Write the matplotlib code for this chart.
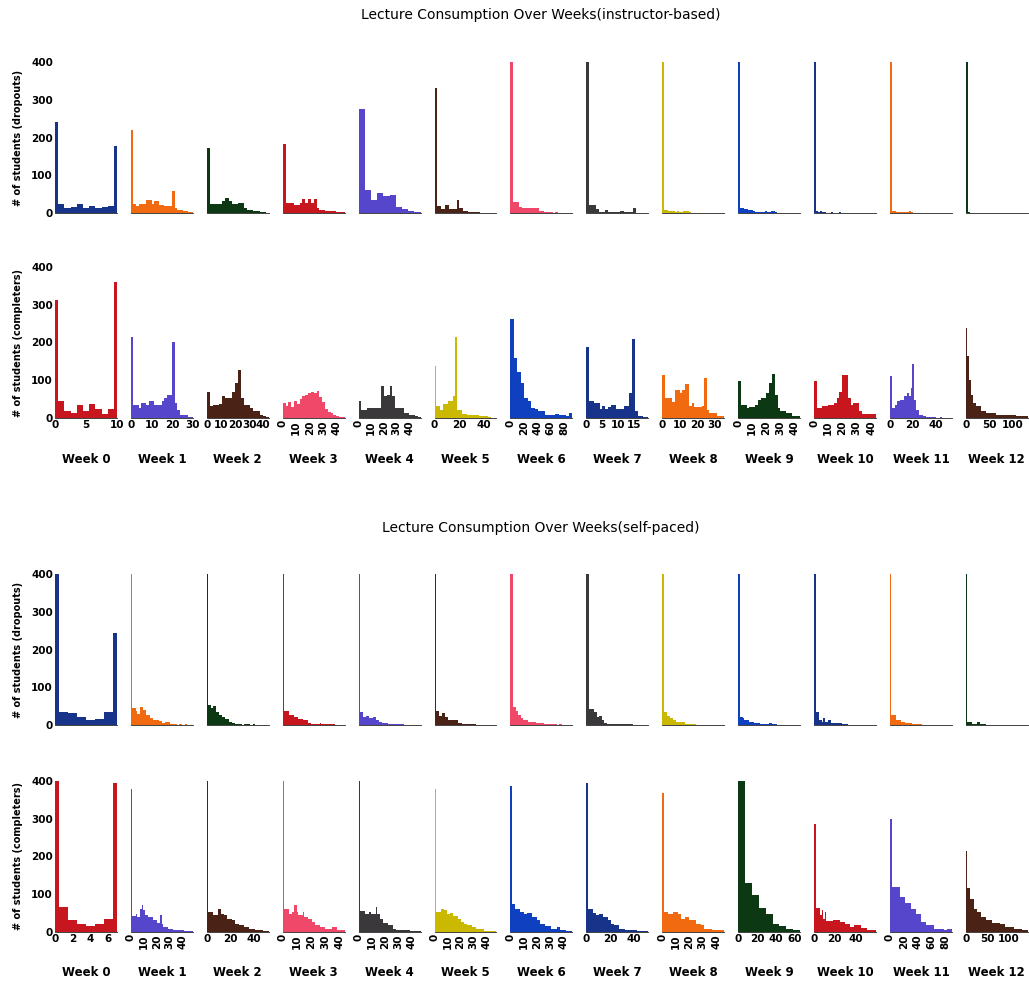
import numpy as np
import matplotlib.pyplot as plt

weeks = ["Week %d" % i for i in range(13)]

# one colour per histogram, cycling through ten colours across the panels
palette = ['#18348a', '#f26a10', '#0c3814', '#c8161e', '#5646cc',
           '#4a2216', '#ef4868', '#3a383a', '#cbb800', '#0e40c0']

# ---- instructor-based course: lectures watched per week ----
instr_xmax = [10, 30, 44, 46, 49, 50, 92, 19.5, 35.5, 44, 43.5, 54, 131]

instr_drop = [
    [240, 25, 25, 12, 12, 16, 16, 23, 23, 12, 12, 19, 19, 12, 12, 16, 16, 19, 19, 177],
    [221, 25, 18, 23, 23, 23, 34, 34, 25, 31, 31, 20, 20, 19, 19, 19, 58, 12, 7, 7, 5, 5, 2, 2],
    [171, 25, 23, 23, 23, 32, 41, 32, 25, 25, 27, 27, 12, 9, 9, 5, 5, 3, 3, 1],
    [182, 27, 27, 27, 20, 20, 27, 36, 27, 36, 27, 36, 13, 7, 7, 4, 4, 5, 5, 2, 2, 2],
    [275, 62, 34, 52, 44, 49, 16, 11, 4, 2],
    [330, 18, 18, 11, 11, 20, 20, 11, 11, 11, 11, 34, 13, 13, 4, 4, 3, 3, 2, 2,
     2, 2, 1, 1, 1, 1, 1, 1, 1, 1],
    [400, 28, 28, 15, 13, 13, 12, 13, 12, 12, 4, 4, 2, 2, 2, 1, 2, 1, 1, 1, 1, 1],
    [400, 21, 21, 11, 3, 3, 8, 2, 2, 2, 2, 5, 2, 2, 2, 13, 1, 1, 1, 1],
    [400, 9, 9, 6, 4, 4, 3, 5, 3, 3, 4, 5, 4, 2, 1, 1, 1, 1, 1, 1,
     1, 1, 1, 1, 1, 1, 1, 1, 1, 1],
    [400, 12, 14, 10, 10, 8, 7, 4, 3, 3, 2, 2, 3, 4, 2, 2, 5, 5, 2, 1,
     1, 1, 1, 1, 1, 1, 1, 1, 1, 1],
    [400, 5, 3, 4, 2, 2, 1, 1, 2, 1, 1, 1, 2, 1, 1, 1, 1, 1, 1, 1,
     1, 1, 1, 1, 1, 1, 1, 1, 1, 1],
    [400, 6, 4, 2, 2, 3, 3, 2, 2, 4, 2, 1, 1, 1, 1, 1, 1, 1, 1, 1,
     1, 1, 1, 1, 1, 1, 1, 1, 1, 1],
    [400, 2, 1, 1, 1, 1, 1, 1, 1, 1, 1, 1, 1, 1, 1, 1, 1, 1, 1, 1,
     1, 1, 1, 1, 1, 1, 1, 1, 1, 1],
]

instr_comp = [
    [312, 44, 44, 18, 18, 13, 13, 35, 35, 19, 19, 38, 38, 25, 25, 11, 11, 25, 25, 360],
    [215, 35, 35, 26, 41, 41, 35, 46, 46, 35, 35, 35, 44, 53, 62, 62, 202, 40, 22, 9,
     9, 9, 3, 3],
    [68, 31, 35, 35, 38, 57, 53, 53, 70, 92, 127, 53, 35, 35, 26, 18, 18, 9, 4, 2],
    [40, 32, 42, 30, 45, 38, 50, 58, 62, 65, 70, 65, 72, 55, 42, 25, 15, 12, 8, 5, 3, 2],
    [44, 22, 22, 26, 26, 26, 26, 26, 84, 57, 62, 84, 57, 26, 26, 26, 13, 13, 7, 7, 4, 2],
    [138, 31, 31, 22, 22, 38, 38, 38, 44, 44, 44, 57, 214, 22, 22, 22, 11, 11, 11, 7,
     7, 7, 7, 7, 7, 7, 4, 4, 4, 4, 4, 2, 2, 1, 1, 1],
    [261, 158, 123, 92, 53, 44, 26, 24, 18, 18, 9, 9, 9, 11, 7, 7, 4, 13],
    [188, 44, 44, 40, 40, 24, 31, 24, 29, 35, 35, 24, 24, 24, 31, 31, 66, 209, 18, 4,
     4, 2, 2],
    [114, 53, 53, 53, 42, 75, 75, 66, 75, 90, 90, 31, 40, 28, 28, 28, 31, 107, 22, 13,
     13, 13, 4, 4, 4],
    [99, 35, 35, 26, 29, 29, 35, 48, 53, 53, 66, 92, 116, 62, 26, 18, 18, 13, 13, 4, 4, 4],
    [99, 26, 26, 31, 31, 35, 35, 40, 53, 70, 114, 114, 53, 35, 40, 40, 18, 11, 11, 11,
     11, 11],
    [110, 26, 26, 35, 44, 44, 48, 48, 57, 57, 66, 57, 79, 142, 48, 22, 22, 9, 9, 4,
     4, 3, 3, 2, 2, 3, 2, 1, 1, 2, 1, 1, 1, 1, 1, 1],
    [239, 163, 101, 62, 40, 40, 31, 31, 31, 18, 18, 18, 13, 13, 13, 13, 13, 13, 9, 9,
     9, 9, 7, 7, 7, 7, 7, 7, 7, 7, 4, 4, 4, 4, 4, 4, 4],
]

instr_ticks = [[0, 5, 10], [0, 10, 20, 30], [0, 10, 20, 30, 40], [0, 10, 20, 30, 40],
               [0, 10, 20, 30, 40], [0, 20, 40], [0, 20, 40, 60, 80], [0, 5, 10, 15],
               [0, 10, 20, 30], [0, 10, 20, 30, 40], [0, 10, 20, 30, 40], [0, 20, 40],
               [0, 50, 100]]
instr_rotated = [3, 4, 6, 9, 10]

# ---- self-paced course ----
self_xmax = [7, 48, 53, 44, 47, 47.5, 47, 52, 46, 66, 60, 89, 145]

self_drop = [
    [400, 35, 35, 31, 31, 22, 22, 13, 13, 16, 16, 35, 35, 244],
    [400, 44, 44, 38, 29, 29, 48, 48, 40, 40, 26, 26, 18, 18, 13, 13, 13, 13, 11, 11,
     4, 4, 7, 7, 7, 2, 2, 3, 2, 2, 1, 2, 2, 1, 1, 2, 1, 1, 1, 1],
    [400, 53, 53, 44, 50, 50, 35, 35, 26, 26, 22, 22, 16, 16, 9, 9, 4, 4, 2, 2,
     3, 2, 2, 1, 2, 2, 3, 2, 1, 1, 2, 1, 1, 1, 1, 1, 1, 1, 1, 1],
    [400, 36, 36, 36, 27, 27, 27, 21, 21, 21, 16, 16, 16, 12, 12, 12, 4, 4, 3, 3,
     3, 3, 3, 3, 4, 3, 2, 2, 2, 2, 2, 2, 2, 2, 1, 1, 1, 1, 1, 1],
    [400, 34, 34, 21, 21, 25, 25, 18, 18, 21, 21, 12, 12, 9, 9, 5, 5, 5, 5, 3,
     3, 2, 2, 2, 2, 2, 2, 2, 2, 1, 1, 1, 1, 1, 1, 1, 1, 1, 1, 1],
    [400, 36, 36, 25, 25, 32, 32, 21, 21, 14, 14, 14, 12, 12, 12, 5, 5, 5, 3, 3,
     2, 2, 2, 3, 2, 2, 2, 1, 1, 1, 1, 1, 1, 1, 1, 1, 1, 1, 1, 1],
    [400, 47, 36, 27, 18, 14, 14, 9, 9, 9, 4, 4, 4, 2, 2, 2, 2, 2, 1, 2, 1, 1, 1, 1],
    [400, 43, 43, 34, 21, 25, 14, 5, 3, 3, 3, 3, 2, 2, 2, 2, 2, 2, 1, 1, 1, 1, 1, 1],
    [400, 34, 34, 24, 24, 18, 18, 13, 13, 9, 9, 9, 9, 7, 7, 3, 3, 2, 2, 2,
     2, 2, 1, 1, 1, 1, 1, 1, 1, 1, 1, 1, 1, 1, 1, 1, 1, 1, 1, 1],
    [400, 21, 21, 18, 12, 12, 12, 7, 7, 7, 5, 5, 5, 5, 3, 3, 3, 3, 3, 3,
     4, 4, 2, 2, 2, 1, 1, 1, 1, 1, 1, 1, 1, 1, 1, 1, 1, 1, 1, 1],
    [400, 34, 34, 13, 13, 9, 18, 9, 9, 13, 13, 4, 4, 4, 4, 4, 5, 5, 2, 2,
     2, 2, 1, 1, 1, 1, 1, 1, 1, 1, 1, 1, 1, 1, 1, 1, 1, 1, 1, 1],
    [400, 27, 27, 27, 13, 13, 13, 7, 7, 7, 5, 5, 5, 5, 2, 2, 2, 2, 2, 2,
     2, 1, 1, 1, 1, 1, 1, 1, 1, 1, 1, 1, 1, 1, 1, 1, 1, 1, 1, 1],
    [400, 9, 9, 9, 3, 3, 3, 9, 9, 2, 2, 2, 2, 1, 1, 1, 1, 1, 1, 1,
     1, 1, 1, 1, 1, 1, 1, 1, 1, 1, 1, 1, 1, 1, 1, 1, 1, 1, 1, 1],
]

self_comp = [
    [400, 66, 66, 33, 33, 20, 20, 16, 16, 20, 20, 34, 34, 395],
    [380, 42, 42, 49, 40, 40, 62, 71, 59, 44, 44, 40, 40, 40, 33, 33, 33, 24, 24, 44,
     22, 13, 13, 13, 9, 9, 9, 6, 6, 6, 6, 6, 6, 6, 3, 3, 3, 3, 3, 3],
    [400, 53, 53, 53, 44, 44, 44, 62, 62, 49, 49, 44, 44, 35, 35, 35, 31, 31, 22, 22,
     22, 18, 18, 18, 13, 13, 13, 9, 9, 9, 9, 4, 4, 4, 4, 4, 2, 2, 2, 2],
    [400, 62, 62, 62, 49, 49, 53, 71, 71, 53, 44, 44, 44, 53, 40, 40, 35, 35, 35, 26,
     26, 18, 18, 18, 13, 13, 13, 9, 9, 9, 9, 9, 13, 13, 13, 4, 4, 4, 4, 4],
    [400, 56, 56, 56, 49, 49, 49, 53, 49, 49, 49, 65, 47, 47, 35, 35, 24, 24, 24, 18,
     18, 18, 9, 9, 4, 4, 4, 4, 4, 4, 6, 6, 6, 3, 3, 3, 3, 3, 3, 3],
    [378, 53, 53, 53, 62, 62, 58, 58, 49, 49, 51, 51, 42, 42, 42, 35, 35, 26, 26, 22,
     22, 18, 18, 18, 13, 13, 13, 9, 9, 9, 9, 9, 3, 3, 3, 3, 3, 3, 3, 3],
    [387, 73, 73, 62, 62, 62, 53, 53, 53, 47, 47, 51, 51, 51, 40, 40, 40, 31, 31, 22,
     22, 22, 15, 15, 15, 15, 9, 9, 9, 9, 13, 13, 4, 4, 4, 4, 2, 2, 2, 2],
    [395, 62, 62, 62, 51, 51, 44, 44, 49, 49, 49, 40, 40, 40, 31, 31, 22, 22, 18, 18,
     18, 9, 9, 9, 9, 6, 6, 6, 4, 4, 4, 4, 4, 2, 2, 2, 2, 2, 2, 2],
    [369, 53, 53, 53, 49, 49, 49, 53, 53, 53, 47, 47, 35, 35, 35, 40, 40, 31, 31, 31,
     33, 33, 22, 22, 22, 18, 18, 9, 9, 9, 9, 9, 4, 4, 4, 4, 4, 4, 4, 4],
    [400, 130, 97, 64, 49, 20, 15, 7, 5],
    [287, 64, 64, 64, 44, 57, 35, 53, 28, 28, 28, 28, 31, 31, 31, 31, 31, 26, 26, 26,
     20, 20, 20, 13, 13, 13, 18, 18, 18, 18, 11, 11, 11, 11, 5, 5, 5, 5, 5, 5],
    [300, 120, 120, 120, 93, 93, 78, 78, 62, 62, 49, 49, 26, 26, 18, 18, 18, 9, 9, 9,
     9, 5, 9, 9],
    [215, 116, 116, 88, 88, 62, 62, 53, 53, 53, 40, 40, 40, 31, 31, 31, 31, 24, 24, 24,
     24, 24, 22, 22, 22, 13, 13, 13, 13, 13, 13, 9, 9, 9, 9, 9, 4, 4, 4, 4],
]

self_ticks = [[0, 2, 4, 6], [0, 10, 20, 30, 40], [0, 20, 40], [0, 10, 20, 30, 40],
              [0, 10, 20, 30, 40], [0, 10, 20, 30, 40], [0, 10, 20, 30, 40], [0, 20, 40],
              [0, 10, 20, 30, 40], [0, 20, 40, 60], [0, 20, 40], [0, 20, 40, 60, 80],
              [0, 50, 100]]
self_rotated = [1, 3, 4, 5, 6, 8, 11]

W, H = 1029, 984
fig = plt.figure(figsize=(W / 100, H / 100), dpi=100)

rows = [
    (62, instr_drop, instr_xmax, None, [], "# of students (dropouts)"),
    (267, instr_comp, instr_xmax, instr_ticks, instr_rotated, "# of students (completers)"),
    (574, self_drop, self_xmax, None, [], "# of students (dropouts)"),
    (781, self_comp, self_xmax, self_ticks, self_rotated, "# of students (completers)"),
]
row_h = 151
col_w = 62

for r, (top, data, xmax, ticks, rotated, ylab) in enumerate(rows):
    for i in range(13):
        left = 55 + 75.9 * i
        ax = fig.add_axes([left / W, 1 - (top + row_h) / H, col_w / W, row_h / H])
        vals = data[i]
        edges = np.linspace(0, xmax[i], len(vals) + 1)
        color = palette[(r % 2 * 13 + i) % 10]
        ax.stairs(vals, edges, fill=True, color=color, lw=0)
        ax.set_xlim(0, xmax[i])
        ax.set_ylim(0, 400)
        for s in ['top', 'right', 'left']:
            ax.spines[s].set_visible(False)
        ax.spines['bottom'].set_color('#222222')
        ax.spines['bottom'].set_linewidth(0.6)
        ax.tick_params(length=0, pad=1.5, labelsize=7.5)
        if i == 0:
            ax.set_yticks([0, 100, 200, 300, 400],
                          ['0', '100', '200', '300', '400'], fontweight='bold')
        else:
            ax.set_yticks([])
        if ticks is None:
            ax.set_xticks([])
        else:
            rot = 90 if i in rotated else 0
            ax.set_xticks(ticks[i], [str(t) for t in ticks[i]], fontweight='bold', rotation=rot)
            fig.text((left + col_w / 2) / W, 1 - (top + row_h + 41) / H, weeks[i],
                     ha='center', va='center', fontsize=8.5, fontweight='bold')
    fig.text(18 / W, 1 - (top + row_h / 2) / H, ylab, rotation=90,
             ha='center', va='center', fontsize=7, fontweight='bold')

fig.text(541 / W, 1 - 15 / H, "Lecture Consumption Over Weeks(instructor-based)",
         ha='center', va='center', fontsize=10)
fig.text(541 / W, 1 - 528 / H, "Lecture Consumption Over Weeks(self-paced)",
         ha='center', va='center', fontsize=10)

fig.savefig("out.png", dpi=100)
